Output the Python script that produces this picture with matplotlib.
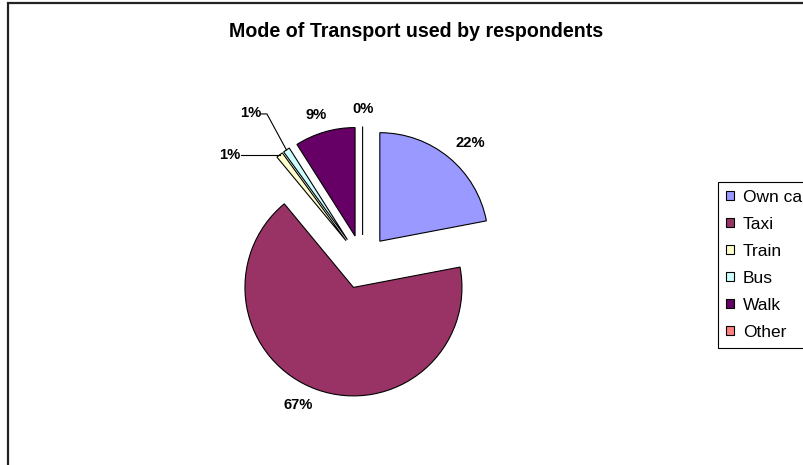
import math
import matplotlib
matplotlib.use('Agg')
import matplotlib.pyplot as plt
from matplotlib.patches import Rectangle

plt.rcParams['font.family'] = ['Liberation Sans', 'DejaVu Sans']

# data
modes = ['Own car', 'Taxi', 'Train', 'Bus', 'Walk', 'Other']
shares = [22, 67, 1, 1, 9, 0]
colors = ['#9999FF', '#993366', '#FFFFCC', '#CCFFFF', '#660066', '#FF8080']

W, H = 804, 465
fig = plt.figure(figsize=(W / 100, H / 100), dpi=100)
ax = fig.add_axes([0, 0, 1, 1])

# chart frame (runs off the right and bottom edges)
ax.add_patch(Rectangle((8.5, -20), W + 50, H - 3 + 20, fill=False,
                       edgecolor='#222222', linewidth=1.6, zorder=0))

cx, cy = 362.6, H - 262
R = 108.5
expl = 27

wedges, _ = ax.pie(shares, colors=colors, startangle=90, counterclock=False,
                   radius=R, center=(cx, cy), explode=[expl] * len(shares),
                   wedgeprops=dict(edgecolor='black', linewidth=0.8),
                   frame=True)
ax.set_xlim(0, W)
ax.set_ylim(0, H)
ax.set_aspect('equal')
ax.axis('off')

# label placement: (distance in radii, clockwise nudge in degrees); None -> leader line
label_pos = [(1.226, 3.0), (1.2, 5.2), None, None, (1.17, -1.7), (1.157, 0.0)]
leader = {2: [(-39, 0)], 3: [(-19.5, 36), (-26, 36)]}
leader_text = {2: (-50, 0), 3: (-36, 37)}

for i, w in enumerate(wedges):
    tm = math.radians((w.theta1 + w.theta2) / 2)
    ux, uy = math.cos(tm), math.sin(tm)
    ax0 = cx + expl * ux
    ay0 = cy + expl * uy
    txt = '%d%%' % round(shares[i])
    if label_pos[i] is not None:
        d, nudge = label_pos[i]
        t2 = tm - math.radians(nudge)
        lx = ax0 + d * R * math.cos(t2)
        ly = ay0 + d * R * math.sin(t2)
    else:
        tx = ax0 + R * ux
        ty = ay0 + R * uy
        xs = [tx] + [tx + p[0] for p in leader[i]]
        ys = [ty] + [ty + p[1] for p in leader[i]]
        ax.plot(xs, ys, color='black', linewidth=0.8)
        lx = tx + leader_text[i][0]
        ly = ty + leader_text[i][1]
    ax.text(lx, ly, txt, ha='center', va='center', fontsize=10.6,
            fontweight='bold')

ax.text(416.5, H - 31.5, 'Mode of Transport used by respondents', ha='center',
        va='center', fontsize=14.1, fontweight='bold')

leg = ax.legend(wedges, modes, loc='upper left',
                bbox_to_anchor=(718 / W, 1 - 182 / H), bbox_transform=fig.transFigure,
                fontsize=12.5, handlelength=0.46, handleheight=0.46,
                handletextpad=0.52, labelspacing=0.69, borderpad=0.45,
                borderaxespad=0, fancybox=False, shadow=False, framealpha=1)
leg.get_frame().set_edgecolor('black')
leg.get_frame().set_linewidth(0.8)

fig.savefig('out.png', dpi=100)
